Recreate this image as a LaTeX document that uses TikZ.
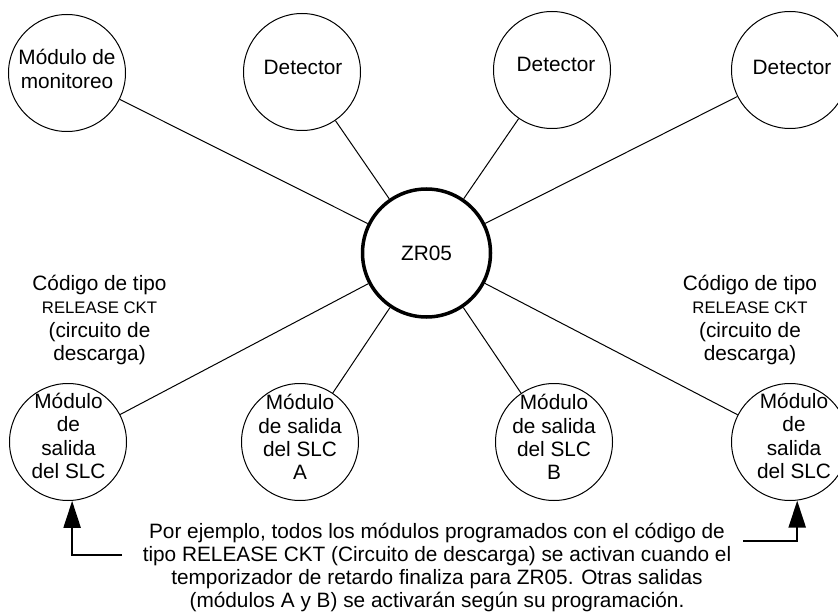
\documentclass[tikz,border=0pt]{standalone}
\usepackage{fontspec}
\setmainfont{Liberation Sans}
\usetikzlibrary{arrows.meta}
\begin{document}
\begin{tikzpicture}[x=1pt,y=-1pt,
  ring/.style={draw,circle,line width=1pt,minimum size=117pt,inner sep=0pt},
  hub/.style={draw,circle,line width=3.5pt,minimum size=128pt,inner sep=0pt},
  txt/.style={align=center,inner sep=0pt,font=\fontsize{20.8}{23.2}\selectfont},
  wire/.style={line width=1pt},
  callout/.style={line width=2.2pt,-{Triangle[length=27pt,width=17pt]}}]
\useasboundingbox (0,0) rectangle (838,615);

% central zone
\node[hub] (zr) at (426.5,253) {};
\node[txt] (zrt) at (zr) {ZR05};

% input devices (top row)
\node[ring] (mon) at (67,73) {};
\node[ring] (det1) at (302,72) {};
\node[ring] (det2) at (552,70) {};
\node[ring] (det3) at (790,70) {};
\node[txt] (mont) at (67,69) {Módulo de\\monitoreo};
\node[txt] (det1t) at (303,67) {Detector};
\node[txt] (det2t) at (556,64) {Detector};
\node[txt] (det3t) at (792,67) {Detector};

% output modules (bottom row)
\node[ring] (outL) at (68,442) {};
\node[ring] (outA) at (300,442) {};
\node[ring] (outB) at (554,442) {};
\node[ring] (outR) at (790,442) {};
\node[txt] (outLt) at (68.5,436) {Módulo\\de\\salida\\del SLC};
\node[txt] (outAt) at (300,437) {Módulo\\de salida\\del SLC\\A};
\node[txt] (outBt) at (554,437) {Módulo\\de salida\\del SLC\\B};
\node[txt] (outRt) at (794,436) {Módulo\\de\\salida\\del SLC};

% connections to the zone
\foreach \n in {mon,det1,det2,det3,outL,outA,outB,outR}
  \draw[wire] (zr) -- (\n);

% type code labels
\node[txt] (codeL) at (99.5,320) {Código de tipo\\{\fontsize{16.7}{23.2}\selectfont RELEASE CKT}\\(circuito de\\descarga)};
\node[txt] (codeR) at (750,320) {Código de tipo\\{\fontsize{16.7}{23.2}\selectfont RELEASE CKT}\\(circuito de\\descarga)};

% explanatory note
\node[txt] (note) at (437,567.5) {Por ejemplo, todos los módulos programados con el código de\\tipo RELEASE CKT (Circuito de descarga) se activan cuando el\\temporizador de retardo finaliza para ZR05. Otras salidas\\(módulos A y B) se activarán según su programación.};

\coordinate (cL) at (122,555);
\coordinate (cR) at (743,541);
\draw[callout] (cL) -| (outL.-86);
\draw[callout] (cR) -| (outR.-83);
\end{tikzpicture}
\end{document}
